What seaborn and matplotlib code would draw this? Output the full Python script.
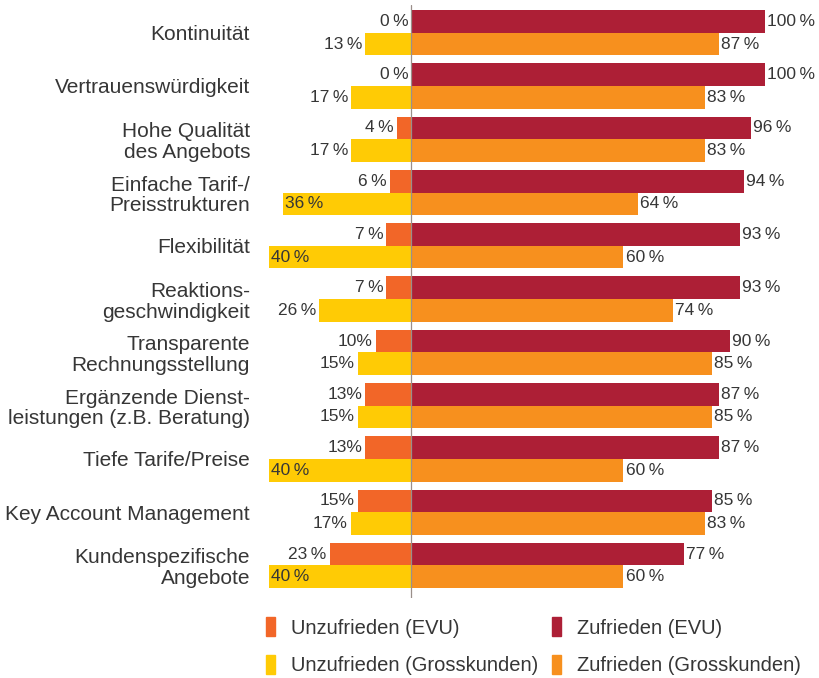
import pandas as pd
import matplotlib.pyplot as plt
import seaborn as sns
from matplotlib.patches import Patch

categories = [
    "Kontinuität",
    "Vertrauenswürdigkeit",
    "Hohe Qualität\ndes Angebots",
    "Einfache Tarif-/\nPreisstrukturen",
    "Flexibilität",
    "Reaktions-\ngeschwindigkeit",
    "Transparente\nRechnungsstellung",
    "Ergänzende Dienst-\nleistungen (z.B. Beratung)",
    "Tiefe Tarife/Preise",
    "Key Account Management",
    "Kundenspezifische\nAngebote",
]
zufrieden_evu = [100, 100, 96, 94, 93, 93, 90, 87, 87, 85, 77]
zufrieden_gk = [87, 83, 83, 64, 60, 74, 85, 85, 60, 83, 60]
unzufrieden_evu = [0, 0, 4, 6, 7, 7, 10, 13, 13, 15, 23]
unzufrieden_gk = [13, 17, 17, 36, 40, 26, 15, 15, 40, 17, 40]
# the source prints some of the left labels without the thin space
unz_evu_labels = ["0\u2009%", "0\u2009%", "4\u2009%", "6\u2009%", "7\u2009%", "7\u2009%",
                  "10%", "13%", "13%", "15%", "23\u2009%"]
unz_gk_labels = ["13\u2009%", "17\u2009%", "17\u2009%", "36\u2009%", "40\u2009%", "26\u2009%",
                 "15%", "15%", "40\u2009%", "17%", "40\u2009%"]

groups = ["EVU", "Grosskunden"]
col_zuf = {"EVU": "#AD1F36", "Grosskunden": "#F7901E"}
col_unz = {"EVU": "#F26628", "Grosskunden": "#FFCB05"}
text_col = "#363636"

df_zuf = pd.DataFrame({
    "Kategorie": categories * 2,
    "Gruppe": ["EVU"] * len(categories) + ["Grosskunden"] * len(categories),
    "Wert": zufrieden_evu + zufrieden_gk,
})
df_unz = pd.DataFrame({
    "Kategorie": categories * 2,
    "Gruppe": ["EVU"] * len(categories) + ["Grosskunden"] * len(categories),
    "Wert": [-v for v in unzufrieden_evu + unzufrieden_gk],
})

sns.set_style("white")
plt.rcParams["font.family"] = ["Liberation Sans", "DejaVu Sans"]

fig = plt.figure(figsize=(8.19, 6.78), dpi=100)
ax = fig.add_axes([264 / 819, 1 - 598 / 678, 1 - 264 / 819, (598 - 5) / 678])

bw = 0.85
sns.barplot(data=df_zuf, x="Wert", y="Kategorie", hue="Gruppe", hue_order=groups,
            palette=col_zuf, orient="h", width=bw, saturation=1, legend=False,
            linewidth=0, ax=ax)
sns.barplot(data=df_unz, x="Wert", y="Kategorie", hue="Gruppe", hue_order=groups,
            palette=col_unz, orient="h", width=bw, saturation=1, legend=False,
            linewidth=0, ax=ax)

ax.axvline(0, color="#9a8f8a", lw=0.9, zorder=5)

off = bw / 4
for i in range(len(categories)):
    y1, y2 = i - off, i + off
    ax.text(zufrieden_evu[i] + 0.6, y1, f"{zufrieden_evu[i]}\u2009%", ha="left", va="center",
            fontsize=12.5, color=text_col)
    ax.text(zufrieden_gk[i] + 0.6, y2, f"{zufrieden_gk[i]}\u2009%", ha="left", va="center",
            fontsize=12.5, color=text_col)
    ax.text(-unzufrieden_evu[i] - 0.8, y1, unz_evu_labels[i], ha="right", va="center",
            fontsize=12.5, color=text_col)
    if unzufrieden_gk[i] >= 30:
        ax.text(-unzufrieden_gk[i] + 0.5, y2, unz_gk_labels[i], ha="left", va="center",
                fontsize=12.5, color=text_col)
    else:
        ax.text(-unzufrieden_gk[i] - 0.8, y2, unz_gk_labels[i], ha="right", va="center",
                fontsize=12.5, color=text_col)

ax.set_xlim(-41.5, 115.2)
ax.set_ylim(10.61, -0.52)
ax.set_xlabel("")
ax.set_ylabel("")
ax.set_xticks([])
ax.tick_params(axis="y", length=0, pad=10, labelsize=15, labelcolor=text_col)
for lab in ax.get_yticklabels():
    lab.set_linespacing(1.1)
    lab.set_horizontalalignment("right")
sns.despine(ax=ax, left=True, bottom=True)

handles = [
    Patch(color=col_unz["EVU"], label="Unzufrieden (EVU)"),
    Patch(color=col_unz["Grosskunden"], label="Unzufrieden (Grosskunden)"),
    Patch(color=col_zuf["EVU"], label="Zufrieden (EVU)"),
    Patch(color=col_zuf["Grosskunden"], label="Zufrieden (Grosskunden)"),
]
leg = fig.legend(handles=handles, ncol=2, loc="upper left",
                 bbox_to_anchor=(266 / 819, 1 - 617 / 678), frameon=False,
                 fontsize=14.5, handlelength=0.45, handleheight=1.1,
                 handletextpad=0.8, columnspacing=0.65, labelspacing=0.85,
                 borderpad=0, borderaxespad=0)
for t in leg.get_texts():
    t.set_color(text_col)

fig.savefig("out.png", dpi=100)
